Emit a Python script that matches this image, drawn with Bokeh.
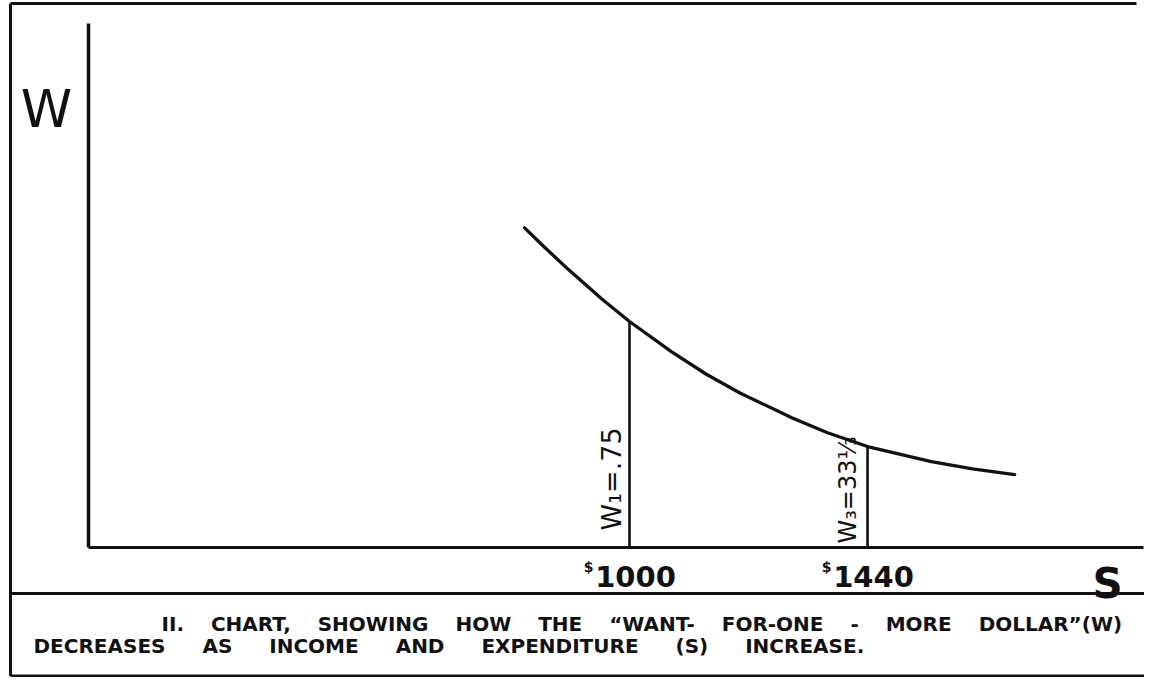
import math
from bokeh.plotting import figure
from bokeh.embed import file_html
from bokeh.resources import INLINE
from bokeh.models import Range1d
from bokeh.core.properties import value

# ---------------- data ----------------
curve_S = [806, 841, 885, 950, 1000, 1078, 1142, 1205, 1301, 1366, 1440, 1558, 1634, 1712]
curve_W = [106.1, 100, 92.6, 82.3, 75, 64.9, 57.5, 51.2, 43, 38.1, 33.5, 28.5, 26.1, 24.2]
marked_S = [1000, 1440]
marked_W = [75, 33.33]
marked_labels = ["W\u2081=.75", "W\u2083=33\u2153"]
tick_labels = ["1000", "1440"]
tick_prefix = "$"
x_label = "S"
y_label = "W"
caption_lines = [
    "II. CHART, SHOWING HOW THE \u201cWANT- FOR-ONE - MORE DOLLAR\u201d(W)",
    "DECREASES AS INCOME AND EXPENDITURE (S) INCREASE.",
]

# ---------------- layout ----------------
FIG_W, FIG_H = 1144, 677
ORIGIN_X, ORIGIN_Y = 88, 547      # canvas pixel of S = 0, W = 0
PX_PER_S = 0.541
PX_PER_W = 3.013
FONT = "DejaVu Sans"
INK = "#111111"


def S_at(px):
    return (px - ORIGIN_X) / PX_PER_S


def W_at(py):
    return (ORIGIN_Y - py) / PX_PER_W


p = figure(
    width=FIG_W, height=FIG_H,
    x_range=Range1d(S_at(0), S_at(FIG_W)),
    y_range=Range1d(W_at(FIG_H), W_at(0)),
    output_backend="svg", toolbar_location=None,
    x_axis_type=None, y_axis_type=None,
    min_border=0, min_border_left=0, min_border_right=0,
    min_border_top=0, min_border_bottom=0,
    background_fill_color="white", border_fill_color="white",
)
p.outline_line_color = None
p.grid.visible = False

# frame of the plate
left_x = S_at(10)
top_y, sep_y, bot_y = W_at(3), W_at(593), W_at(675.5)
p.line([left_x, left_x], [top_y, bot_y], line_width=3, line_color=INK)
p.line([left_x, S_at(1136)], [top_y, top_y], line_width=3, line_color=INK)
p.line([left_x, S_at(FIG_W)], [bot_y, bot_y], line_width=3, line_color=INK)
p.line([left_x, S_at(FIG_W)], [sep_y, sep_y], line_width=3, line_color=INK)

# axes
p.line([0, 0], [0, W_at(23)], line_width=3.5, line_color=INK)
p.line([0, S_at(1143)], [0, 0], line_width=3, line_color=INK)

# ordinates
p.segment(x0=marked_S, y0=[0] * len(marked_S), x1=marked_S, y1=marked_W,
          line_width=2.6, line_color=INK)

# curve
p.line(curve_S, curve_W, line_width=3.3, line_color=INK,
       line_join="round", line_cap="round")

# axis letters
p.text(x=[S_at(46)], y=[W_at(108)], text=[y_label], text_font=value(FONT),
       text_font_size="52px", text_align="center", text_baseline="alphabetic",
       text_color=INK)
p.text(x=[S_at(1107)], y=[W_at(583)], text=[x_label], text_font=value(FONT),
       text_font_size="42px", text_font_style="bold", text_align="center",
       text_baseline="alphabetic", text_color=INK)

# tick labels
p.text(x=marked_S, y=[0] * len(marked_S), text=tick_labels, text_font=value(FONT),
       text_font_size="29px", text_font_style="bold", text_align="center",
       text_baseline="alphabetic", x_offset=6, y_offset=29, text_color=INK)
p.text(x=marked_S, y=[0] * len(marked_S), text=[tick_prefix] * len(marked_S),
       text_font=value(FONT), text_font_size="14px", text_font_style="bold",
       text_align="right", text_baseline="alphabetic", x_offset=-36, y_offset=19,
       text_color=INK)

# ordinate labels (rotated)
label_style = [
    dict(size="27px", dx=-18, dy=-17),
    dict(size="24px", dx=-20, dy=-4),
]
for s_val, lab, st in zip(marked_S, marked_labels, label_style):
    p.text(x=[s_val], y=[0], text=[lab], angle=math.pi / 2,
           text_font=value(FONT), text_font_size=st["size"],
           text_align="left", text_baseline="alphabetic",
           x_offset=st["dx"], y_offset=st["dy"], text_color=INK)

# caption (hand-lettered original is widely spaced)
gaps = [" \u2003", " \u2003\u2002"]
starts = [(161, 623), (33, 645)]
for line, gap, (cx, cy) in zip(caption_lines, gaps, starts):
    p.text(x=[S_at(cx)], y=[W_at(cy)], text=[line.replace(" ", gap)],
           text_font=value(FONT), text_font_size="20px", text_font_style="bold",
           text_align="left", text_baseline="alphabetic", text_color=INK)

open("out.html", "w").write(file_html(p, INLINE))
